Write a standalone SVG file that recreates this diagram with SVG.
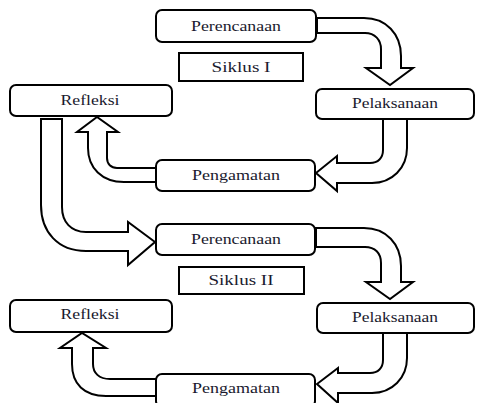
<svg xmlns="http://www.w3.org/2000/svg" width="477" height="403" viewBox="0 0 477 403">
<style>
.box{fill:#fff;stroke:#000;stroke-width:2}
.arr{fill:#fff;stroke:#000;stroke-width:2;stroke-linejoin:miter}
.t{font-family:"Liberation Serif","Times New Roman",serif;font-size:15px;fill:#1a1a2e;text-anchor:middle}
</style>
<rect width="477" height="403" fill="#fff"/>
<g id="connectors">
<path class="arr" d="M317,18 L364,18 C386,18 401,34 401,56 L401,68 L413,68 L390,85 L366,68 L381,68 L381,49 C381,40 375,33 365,33 L317,33 Z"/>
<path class="arr" d="M383,119 L383,150 C383,158 378,163 370,163 L337,163 L337,156 L316,173 L337,191 L337,183 L372,183 C392,183 407,168 407,148 L407,119 Z"/>
<path class="arr" d="M156,168 L117,168 C111,168 107,164 107,158 L107,132 L118,132 L97,117 L77,132 L88,132 L88,148 C88,168 102,182 124,182 L156,182 Z"/>
<path class="arr" d="M41,119 L62,119 L62,207 C62,222 71,232 86,232 L128,232 L128,222 L155,242 L128,265 L128,251 L86,251 C58,251 41,232 41,205 Z"/>
<path class="arr" d="M316,228 L364,228 C386,228 401,244 401,266 L401,282 L413,282 L390,299 L366,282 L381,282 L381,263 C381,253 375,247 365,247 L316,247 Z"/>
<path class="arr" d="M383,333 L383,360 C383,368 378,373 370,373 L338,373 L338,368 L317,384 L338,403 L338,393 L372,393 C392,393 407,378 407,358 L407,333 Z"/>
<path class="arr" d="M156,379 L110,379 C99,379 93,373 93,364 L93,348 L106,348 L82,333 L60,348 L72,348 L72,364 C72,384 84,396 106,396 L156,396 Z"/>
</g>
<g id="perencanaan1"><rect class="box" x="156" y="10" width="160" height="32" rx="6"/><text class="t" x="236" y="31" textLength="90" lengthAdjust="spacingAndGlyphs">Perencanaan</text></g>
<g id="siklus1"><rect class="box" x="179" y="53" width="124" height="28"/><text class="t" x="241" y="72" textLength="59" lengthAdjust="spacingAndGlyphs">Siklus I</text></g>
<g id="pelaksanaan1"><rect class="box" x="316" y="89" width="158" height="30" rx="6"/><text class="t" x="395" y="108" textLength="86" lengthAdjust="spacingAndGlyphs">Pelaksanaan</text></g>
<g id="refleksi1"><rect class="box" x="10" y="85" width="162" height="31" rx="6"/><text class="t" x="90" y="105" textLength="59" lengthAdjust="spacingAndGlyphs">Refleksi</text></g>
<g id="pengamatan1"><rect class="box" x="156" y="160" width="159" height="31" rx="6"/><text class="t" x="236" y="180" textLength="88" lengthAdjust="spacingAndGlyphs">Pengamatan</text></g>
<g id="perencanaan2"><rect class="box" x="156" y="224" width="159" height="31" rx="6"/><text class="t" x="236" y="244" textLength="90" lengthAdjust="spacingAndGlyphs">Perencanaan</text></g>
<g id="siklus2"><rect class="box" x="179" y="267" width="125" height="27"/><text class="t" x="241" y="285" textLength="65" lengthAdjust="spacingAndGlyphs">Siklus II</text></g>
<g id="pelaksanaan2"><rect class="box" x="317" y="303" width="157" height="30" rx="6"/><text class="t" x="395" y="322" textLength="86" lengthAdjust="spacingAndGlyphs">Pelaksanaan</text></g>
<g id="refleksi2"><rect class="box" x="10" y="300" width="162" height="32" rx="6"/><text class="t" x="90" y="319" textLength="59" lengthAdjust="spacingAndGlyphs">Refleksi</text></g>
<g id="pengamatan2"><rect class="box" x="156" y="374" width="159" height="33" rx="6"/><text class="t" x="236" y="393" textLength="88" lengthAdjust="spacingAndGlyphs">Pengamatan</text></g>
</svg>
